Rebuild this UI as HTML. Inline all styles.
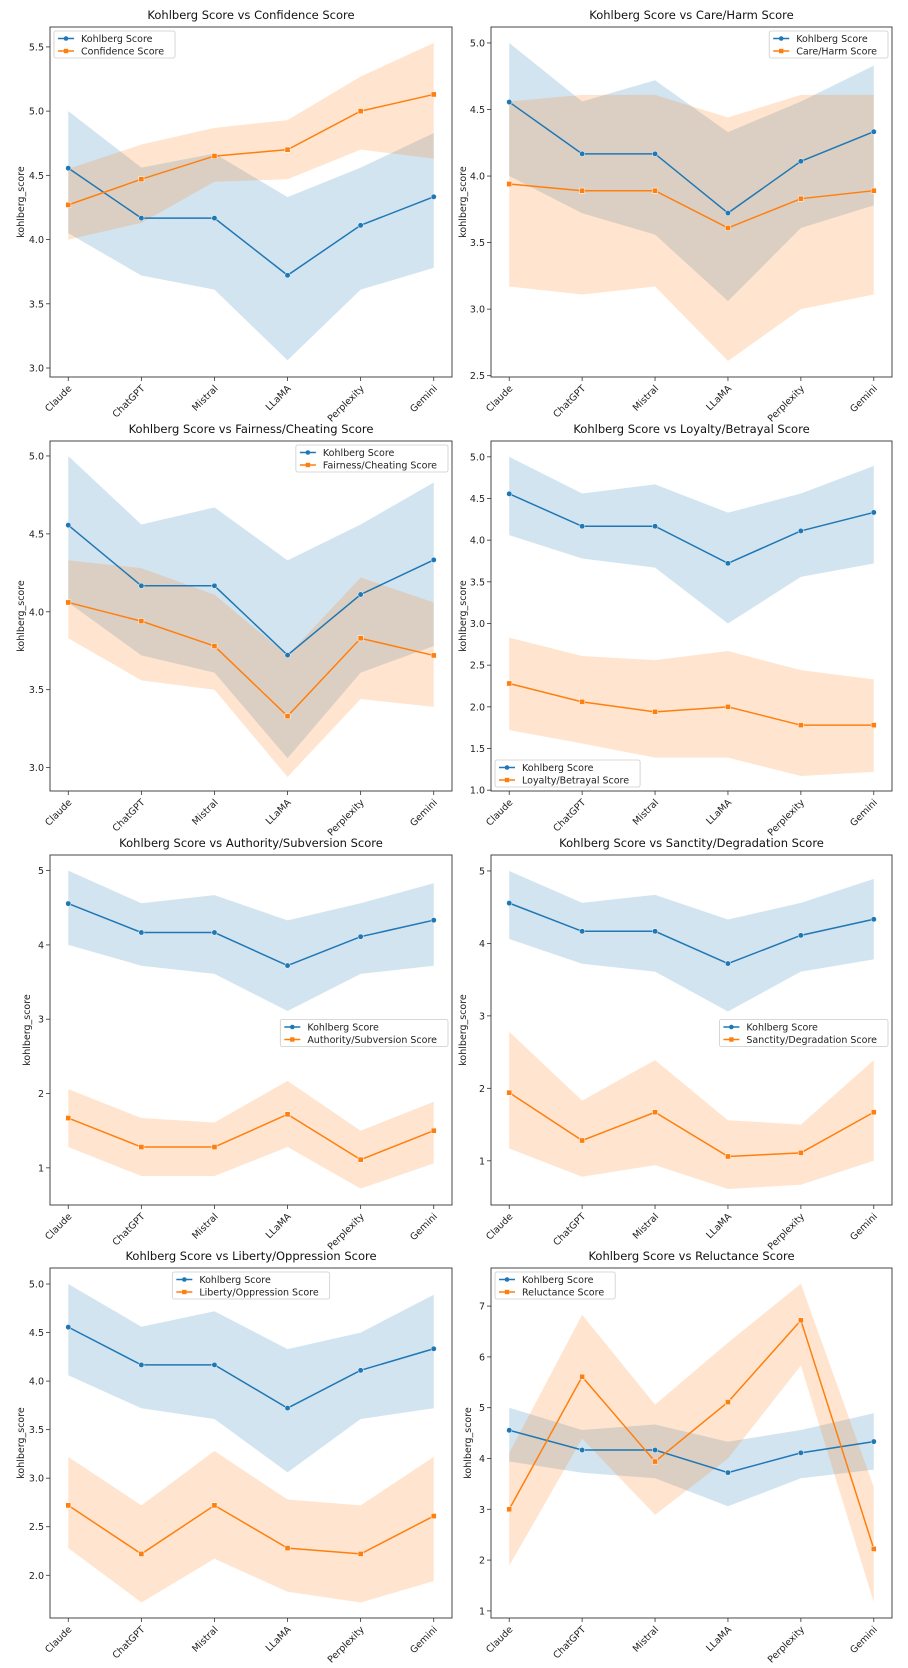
<!DOCTYPE html>
<html><head><meta charset="utf-8">
<style>
html,body{margin:0;padding:0;background:#fff;}
svg{display:block;font-family:"DejaVu Sans","Liberation Sans",sans-serif;}
</style></head>
<body>
<svg id="fig" width="908" height="1668" viewBox="0 0 908 1668" xmlns="http://www.w3.org/2000/svg"></svg>
<script>
const categories = ["Claude","ChatGPT","Mistral","LLaMA","Perplexity","Gemini"];
const kohlbergMean = [4.556,4.167,4.167,3.722,4.111,4.333];

const titles = ["Confidence Score","Care/Harm Score","Fairness/Cheating Score","Loyalty/Betrayal Score","Authority/Subversion Score","Sanctity/Degradation Score","Liberty/Oppression Score","Reluctance Score"];

const kohlbergLo = [
 [4.05,3.72,3.61,3.06,3.61,3.78],
 [4.0,3.72,3.56,3.06,3.61,3.78],
 [4.06,3.72,3.61,3.06,3.61,3.78],
 [4.06,3.78,3.67,3.0,3.56,3.72],
 [4.0,3.72,3.61,3.11,3.61,3.72],
 [4.06,3.72,3.61,3.06,3.61,3.78],
 [4.06,3.72,3.61,3.06,3.61,3.72],
 [3.94,3.72,3.61,3.06,3.61,3.78]];
const kohlbergHi = [
 [5.0,4.56,4.67,4.33,4.56,4.83],
 [5.0,4.56,4.72,4.33,4.56,4.83],
 [5.0,4.56,4.67,4.33,4.56,4.83],
 [5.0,4.56,4.67,4.33,4.56,4.89],
 [5.0,4.56,4.67,4.33,4.56,4.83],
 [5.0,4.56,4.67,4.33,4.56,4.89],
 [5.0,4.56,4.72,4.33,4.5,4.89],
 [5.0,4.56,4.67,4.33,4.56,4.89]];

const otherMean = [
 [4.27,4.47,4.65,4.70,5.00,5.13],
 [3.94,3.89,3.89,3.61,3.83,3.89],
 [4.06,3.94,3.78,3.33,3.83,3.72],
 [2.28,2.06,1.94,2.0,1.78,1.78],
 [1.67,1.28,1.28,1.72,1.11,1.5],
 [1.94,1.28,1.67,1.06,1.11,1.67],
 [2.72,2.22,2.72,2.28,2.22,2.61],
 [3.0,5.61,3.94,5.11,6.72,2.22]];
const otherLo = [
 [4.0,4.13,4.45,4.47,4.70,4.63],
 [3.17,3.11,3.17,2.61,3.0,3.11],
 [3.83,3.56,3.5,2.94,3.44,3.39],
 [1.72,1.56,1.39,1.39,1.17,1.22],
 [1.28,0.89,0.89,1.28,0.72,1.06],
 [1.17,0.78,0.94,0.61,0.67,1.0],
 [2.28,1.72,2.17,1.83,1.72,1.94],
 [1.89,4.39,2.89,4.0,5.83,1.17]];
const otherHi = [
 [4.55,4.74,4.87,4.93,5.27,5.53],
 [4.56,4.61,4.61,4.44,4.61,4.61],
 [4.33,4.28,4.11,3.72,4.22,4.06],
 [2.83,2.61,2.56,2.67,2.44,2.33],
 [2.06,1.67,1.61,2.17,1.5,1.89],
 [2.78,1.83,2.39,1.56,1.5,2.39],
 [3.22,2.72,3.28,2.78,2.72,3.22],
 [4.11,6.83,5.06,6.28,7.44,3.44]];

const yMin = [2.93,2.49,2.85,0.99,0.50,0.39,1.56,0.86];
const yMax = [5.655,5.12,5.096,5.19,5.21,5.22,5.165,7.75];
const yTicks = [
 ["3.0","3.5","4.0","4.5","5.0","5.5"],
 ["2.5","3.0","3.5","4.0","4.5","5.0"],
 ["3.0","3.5","4.0","4.5","5.0"],
 ["1.0","1.5","2.0","2.5","3.0","3.5","4.0","4.5","5.0"],
 ["1","2","3","4","5"],
 ["1","2","3","4","5"],
 ["2.0","2.5","3.0","3.5","4.0","4.5","5.0"],
 ["1","2","3","4","5","6","7"]];
const legendLoc = ["upper left","upper right","upper right","lower left","center right","center right","upper center","upper left"];

const NS="http://www.w3.org/2000/svg";
const svg=document.getElementById('fig');
function mk(tag,attrs,parent){const e=document.createElementNS(NS,tag);for(const k in attrs)e.setAttribute(k,attrs[k]);(parent||svg).appendChild(e);return e;}

const BLUE="#1f77b4", ORANGE="#ff7f0e";
const rowTop=[27,441,855,1268];
const H=350;

for(let p=0;p<8;p++){
  const col=p%2,row=Math.floor(p/2);
  const L = col===0?50:491, R = col===0?452:892;
  const T=rowTop[row], B=T+H;
  const g=mk('g',{});
  
  
  const xs=i=>L+(R-L)*(i+0.25)/5.5;
  const ys=v=>B-(v-yMin[p])/(yMax[p]-yMin[p])*(B-T);

  const clipId='clip'+p;
  const cp=mk('clipPath',{id:clipId},g);
  mk('rect',{x:L,y:T,width:R-L,height:H},cp);
  const plot=mk('g',{'clip-path':'url(#'+clipId+')'},g);

  function band(lo,hi,color,name){
    let d='M'+categories.map((c,i)=>xs(i)+','+ys(hi[i])).join('L');
    for(let i=categories.length-1;i>=0;i--) d+='L'+xs(i)+','+ys(lo[i]);
    const e=mk('path',{d:d+'Z',fill:color,'fill-opacity':0.2,stroke:'none'},plot);
    
    
  }
  function line(vals,color,name,square){
    const e=mk('polyline',{points:vals.map((v,i)=>xs(i)+','+ys(v)).join(' '),fill:'none',stroke:color,'stroke-width':1.5},plot);
    
    
    vals.forEach((v,i)=>{
      let m;
      if(square) m=mk('rect',{x:xs(i)-2.6,y:ys(v)-2.6,width:5.2,height:5.2,fill:color,stroke:'#fff','stroke-width':0.5},plot);
      else m=mk('circle',{cx:xs(i),cy:ys(v),r:2.7,fill:color,stroke:'#fff','stroke-width':0.5},plot);
      
      
    });
  }
  band(kohlbergLo[p],kohlbergHi[p],BLUE,'kohlberg-ci-band');
  band(otherLo[p],otherHi[p],ORANGE,'other-ci-band');
  line(kohlbergMean,BLUE,'kohlberg',false);
  line(otherMean[p],ORANGE,'other',true);

  const fr=mk('rect',{x:L,y:T,width:R-L,height:H,fill:'none',stroke:'#333','stroke-width':0.9},g);
  
  

  yTicks[p].forEach(t=>{
    const y=ys(parseFloat(t));
    mk('line',{x1:L-4,x2:L,y1:y,y2:y,stroke:'#333','stroke-width':0.8},g);
    const tx=mk('text',{x:L-6,y:y+3.5,'text-anchor':'end','font-size':9.5,fill:'#222'},g);
    tx.textContent=t;
    
    
  });
  categories.forEach((c,i)=>{
    const x=xs(i);
    mk('line',{x1:x,x2:x,y1:B,y2:B+4,stroke:'#333','stroke-width':0.8},g);
    const tx=mk('text',{x:x+4,y:B+12,'text-anchor':'end','font-size':9.5,fill:'#222',transform:'rotate(-45 '+(x+4)+' '+(B+12)+')'},g);
    tx.textContent=c;
    
    
  });
  const yl=col===0?(p===4?30:24):(p===7?454+17:454+12);
  const yt=mk('text',{x:yl,y:(T+B)/2,'text-anchor':'middle','font-size':9.5,fill:'#222',transform:'rotate(-90 '+yl+' '+((T+B)/2)+')'},g);
  yt.textContent='kohlberg_score';
  
  
  const tt=mk('text',{x:(L+R)/2,y:T-8,'text-anchor':'middle','font-size':11.5,fill:'#111'},g);
  tt.textContent='Kohlberg Score vs '+titles[p];
  
  

  const lg=mk('g',{},g);
  
  
  const box=mk('rect',{rx:2,fill:'#fff','fill-opacity':0.8,stroke:'#ccc','stroke-width':0.8},lg);
  const labels=['Kohlberg Score',titles[p]];
  const texts=labels.map((l,k)=>{const t=mk('text',{'font-size':9.5,fill:'#222'},lg);t.textContent=l;
    
    
    return t;});
  let tw=Math.max(...texts.map(t=>t.getComputedTextLength()));
  const bw=tw+38, bh=27;
  let bx,by;
  const loc=legendLoc[p];
  if(loc==='upper left'){bx=L+4;by=T+4;}
  else if(loc==='upper right'){bx=R-4-bw;by=T+4;}
  else if(loc==='lower left'){bx=L+4;by=B-4-bh;}
  else if(loc==='center right'){bx=R-4-bw;by=(T+B)/2-bh/2+3;}
  else {bx=(L+R)/2-bw/2;by=T+4;}
  box.setAttribute('x',bx);box.setAttribute('y',by);box.setAttribute('width',bw);box.setAttribute('height',bh);
  [BLUE,ORANGE].forEach((c,k)=>{
    const yy=by+7.5+k*12.5;
    mk('line',{x1:bx+4,x2:bx+20,y1:yy,y2:yy,stroke:c,'stroke-width':1.5},lg);
    if(k===0) mk('circle',{cx:bx+12,cy:yy,r:2.3,fill:c},lg);
    else mk('rect',{x:bx+9.8,y:yy-2.2,width:4.4,height:4.4,fill:c},lg);
    texts[k].setAttribute('x',bx+27);texts[k].setAttribute('y',yy+3.5);
  });
}
</script>
</body></html>
